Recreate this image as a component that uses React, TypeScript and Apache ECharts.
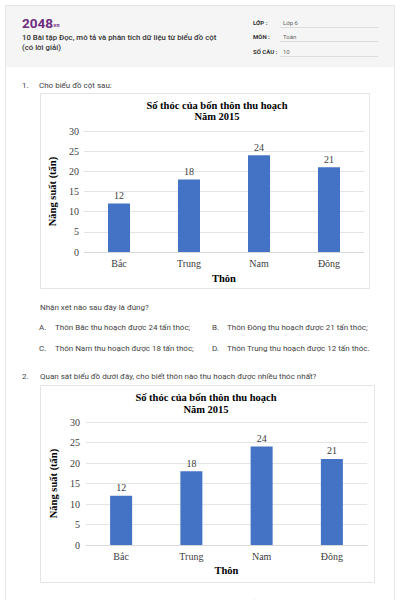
import React, { useEffect, useRef } from "react";
import * as echarts from "echarts";

const categories = ["Bắc", "Trung", "Nam", "Đông"];
const harvestChart1 = [12, 18, 24, 21];
const harvestChart2 = [12, 18, 24, 21];
const yMin = 0;
const yMax = 30;
const yInterval = 5;

const chartTitleLine1 = "Số thóc của bốn thôn thu hoạch";
const chartTitleLine2 = "Năm 2015";
const xAxisName = "Thôn";
const yAxisName = "Năng suất (tấn)";

const headerTitle1 = "10 Bài tập Đọc, mô tả và phân tích dữ liệu từ biểu đồ cột";
const headerTitle2 = "(có lời giải)";
const headerLabels = ["LỚP :", "MÔN :", "SỐ CÂU :"];
const headerValues = ["Lớp 6", "Toán", "10"];

const q1Text = "Cho biểu đồ cột sau:";
const q1Prompt = "Nhận xét nào sau đây là đúng?";
const q1Options = [
  ["A.", "Thôn Bắc thu hoạch được 24 tấn thóc;"],
  ["B.", "Thôn Đông thu hoạch được 21 tấn thóc;"],
  ["C.", "Thôn Nam thu hoạch được 18 tấn thóc;"],
  ["D.", "Thôn Trung thu hoạch được 12 tấn thóc."],
];
const q2Text = "Quan sát biểu đồ dưới đây, cho biết thôn nào thu hoạch được nhiều thóc nhất?";
const q2Options = [
  ["A.", "Thôn Đông"],
  ["B.", "Thôn Bắc"],
];

const SANS = "Roboto, 'Noto Sans', sans-serif";
const SERIF = "'Liberation Serif', 'DejaVu Serif', serif";
const BAR = "#4472C4";

function txt(x: number, y: number, text: string, extra: any = {}) {
  return {
    type: "text",
    x,
    y,
    z: 5,
    style: {
      text,
      fill: "#444",
      fontFamily: SANS,
      fontSize: 8,
      verticalAlign: "middle",
      align: "left",
      ...extra,
    },
  };
}

function makeAxes(gridIndex: number, labelMargin: number, nameGap: number, yNameGap: number, yLabelMargin: number) {
  const x = {
    type: "category",
    gridIndex,
    data: categories,
    axisLine: { show: true, lineStyle: { color: "#d9d9d9", width: 1 } },
    axisTick: { show: false },
    axisLabel: { color: "#404040", fontFamily: SERIF, fontSize: 10, margin: labelMargin },
    name: xAxisName,
    nameLocation: "middle",
    nameGap,
    nameTextStyle: { color: "#000", fontFamily: SERIF, fontSize: 10.5, fontWeight: "bold" },
  };
  const y = {
    type: "value",
    gridIndex,
    min: yMin,
    max: yMax,
    interval: yInterval,
    axisLine: { show: false },
    axisTick: { show: false },
    splitLine: { show: true, lineStyle: { color: "#e4e4e4", width: 1 } },
    axisLabel: { color: "#404040", fontFamily: SERIF, fontSize: 10, margin: yLabelMargin },
    name: yAxisName,
    nameLocation: "middle",
    nameGap: yNameGap,
    nameRotate: 90,
    nameTextStyle: { color: "#000", fontFamily: SERIF, fontSize: 10.5, fontWeight: "bold" },
  };
  return { x, y };
}

export default function App() {
  const ref = useRef<HTMLDivElement>(null);

  useEffect(() => {
    if (!ref.current) return;
    const chart = echarts.init(ref.current, null, { renderer: "svg" });

    const a1 = makeAxes(0, 6, 21, 26, 5);
    const a2 = makeAxes(1, 6, 20, 25, 6);

    const graphic: any[] = [
      // outer card
      { type: "rect", z: -10, shape: { x: 5.5, y: 5.5, width: 389, height: 620 }, style: { fill: "#fff", stroke: "#e6e6e6", lineWidth: 1 } },
      // header background
      { type: "rect", z: -9, shape: { x: 6, y: 6, width: 388, height: 61 }, style: { fill: "#f5f5f5" } },
      // logo
      txt(22, 22.5, "2048", { fill: "#6e2c80", fontSize: 13.5, fontWeight: "bold", fontFamily: "Roboto, sans-serif" }),
      txt(52, 25, ".vn", { fill: "#6e2c80", fontSize: 5.5, fontWeight: "bold" }),
      txt(22, 37, headerTitle1, { fill: "#333", fontSize: 7.8, fontWeight: 500 }),
      txt(22, 47, headerTitle2, { fill: "#333", fontSize: 7.8, fontWeight: 500 }),
      // chart boxes
      { type: "rect", z: -8, shape: { x: 40.5, y: 93.5, width: 329, height: 195 }, style: { fill: "#fff", stroke: "#e4e4e4", lineWidth: 1 } },
      { type: "rect", z: -8, shape: { x: 40.5, y: 385.5, width: 334, height: 197 }, style: { fill: "#fff", stroke: "#e4e4e4", lineWidth: 1 } },
      // chart titles
      txt(217, 105, chartTitleLine1, { fill: "#000", fontFamily: SERIF, fontSize: 10.5, fontWeight: "bold", align: "center" }),
      txt(217, 116.5, chartTitleLine2, { fill: "#000", fontFamily: SERIF, fontSize: 10.5, fontWeight: "bold", align: "center" }),
      txt(206, 397, chartTitleLine1, { fill: "#000", fontFamily: SERIF, fontSize: 10.5, fontWeight: "bold", align: "center" }),
      txt(206, 409, chartTitleLine2, { fill: "#000", fontFamily: SERIF, fontSize: 10.5, fontWeight: "bold", align: "center" }),
      // question 1
      txt(22, 85.5, "1."),
      txt(39, 85.5, q1Text),
      txt(40, 307, q1Prompt),
      txt(39, 327, q1Options[0][0]),
      txt(55, 327, q1Options[0][1]),
      txt(212, 327, q1Options[1][0]),
      txt(227, 327, q1Options[1][1]),
      txt(39, 348, q1Options[2][0]),
      txt(55, 348, q1Options[2][1]),
      txt(212, 348, q1Options[3][0]),
      txt(227, 348, q1Options[3][1]),
      // question 2
      txt(22, 376, "2."),
      txt(40, 376, q2Text),
      txt(39, 602, q2Options[0][0]),
      txt(55, 602, q2Options[0][1]),
      txt(212, 602, q2Options[1][0]),
      txt(227, 602, q2Options[1][1]),
    ];

    const lineYs = [27, 41, 56];
    headerLabels.forEach((lab, i) => {
      graphic.push(txt(253, lineYs[i] - 5, lab, { fill: "#333", fontSize: 6, fontWeight: "bold" }));
      graphic.push(txt(283, lineYs[i] - 5, headerValues[i], { fill: "#666", fontSize: 6 }));
      graphic.push({ type: "line", z: 4, shape: { x1: 280, y1: lineYs[i] + 0.5, x2: 378, y2: lineYs[i] + 0.5 }, style: { stroke: "#dddddd", lineWidth: 1 } });
    });

    const labelCfg = { show: true, position: "top", distance: 3, color: "#404040", fontFamily: SERIF, fontSize: 10 };

    chart.setOption({
      animation: false,
      grid: [
        { left: 84, top: 131, width: 280, height: 121, containLabel: false },
        { left: 86, top: 422, width: 281, height: 123, containLabel: false },
      ],
      xAxis: [a1.x, a2.x],
      yAxis: [a1.y, a2.y],
      series: [
        { type: "bar", xAxisIndex: 0, yAxisIndex: 0, data: harvestChart1, barWidth: 22, itemStyle: { color: BAR }, label: labelCfg },
        { type: "bar", xAxisIndex: 1, yAxisIndex: 1, data: harvestChart2, barWidth: 22, itemStyle: { color: BAR }, label: labelCfg },
      ],
      graphic,
    });

    return () => chart.dispose();
  }, []);

  return (
    <div
      ref={ref}
      style={{ position: "absolute", left: 0, top: 0, width: 400, height: 600, background: "#fff" }}
    />
  );
}
